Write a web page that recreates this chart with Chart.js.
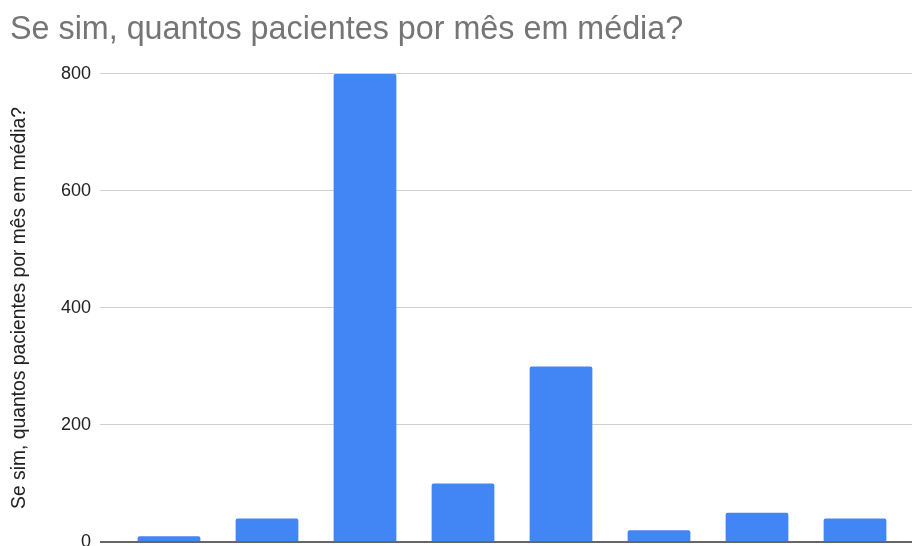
<!DOCTYPE html>
<html>
<head>
<meta charset="utf-8">
<script src="https://cdn.jsdelivr.net/npm/chart.js@4"></script>
<style>
  body { margin: 0; background: #fff; }
  canvas { display: block; }
</style>
</head>
<body>
<canvas id="bar-chart" width="912" height="546"></canvas>
<script>
const chartTitle = "Se sim, quantos pacientes por mês em média?"
const categories = ["Resposta 1", "Resposta 2", "Resposta 3", "Resposta 4", "Resposta 5", "Resposta 6", "Resposta 7", "Resposta 8"]
const pacientes = [10, 40, 800, 100, 300, 20, 50, 40]
const yTicks = [0, 200, 400, 600, 800]

const font = "'Liberation Sans', Arial, sans-serif"

// zero line darker than the other grid lines
const gridColor = ctx => ctx.tick && ctx.tick.value === 0 ? '#666' : '#d0d0d0'
const gridWidth = ctx => ctx.tick && ctx.tick.value === 0 ? 2 : 1

const bctx = document.getElementById("bar-chart").getContext("2d");

const bar_chart = new Chart(bctx, {
  type: "bar",
  data: {
    labels: categories,
    datasets: [
      {
        label: chartTitle,
        data: pacientes,
        backgroundColor: '#4285f4',
        borderWidth: 0,
        borderRadius: 2,
        borderSkipped: 'bottom',
        categoryPercentage: 1,
        barPercentage: 0.64
      }
    ]
  },
  options: {
    responsive: false,
    animation: false,
    layout: {
      padding: { left: 10, right: 0, top: 0, bottom: 4 }
    },
    plugins: {
      legend: { display: false },
      tooltip: { enabled: false },
      title: {
        display: true,
        text: chartTitle,
        align: 'start',
        color: '#757575',
        font: { family: font, size: 32.3, weight: 'normal', lineHeight: 1.2 },
        padding: { top: 11, bottom: 24.2 }
      }
    },
    scales: {
      x: {
        ticks: { display: false },
        grid: { display: false, drawTicks: false },
        border: { display: false },
        afterFit: axis => {
          axis.height = 0
          axis.paddingLeft = 0
          axis.paddingRight = 0
        }
      },
      y: {
        min: yTicks[0],
        max: yTicks[yTicks.length - 1],
        afterBuildTicks: axis => { axis.ticks = yTicks.map(v => ({ value: v })) },
        ticks: {
          color: '#222',
          padding: 9,
          font: { family: font, size: 18 }
        },
        grid: {
          color: gridColor,
          lineWidth: gridWidth,
          drawTicks: true,
          tickLength: 20
        },
        border: { display: false },
        title: {
          display: true,
          text: chartTitle,
          color: '#222',
          font: { family: font, size: 19.3, lineHeight: 1 },
          padding: { top: 0, bottom: 0 }
        },
        afterFit: axis => {
          axis.width = 110
          axis.paddingTop = 0
          axis.paddingBottom = 0
        }
      },
      // only carries the grid lines out to the right edge
      yRight: {
        position: 'right',
        min: yTicks[0],
        max: yTicks[yTicks.length - 1],
        afterBuildTicks: axis => { axis.ticks = yTicks.map(v => ({ value: v })) },
        ticks: { display: false },
        grid: {
          color: gridColor,
          lineWidth: gridWidth,
          drawOnChartArea: false,
          drawTicks: true,
          tickLength: 8
        },
        border: { display: false },
        afterFit: axis => {
          axis.width = 8
          axis.paddingTop = 0
          axis.paddingBottom = 0
        }
      }
    }
  }
});
</script>
</body>
</html>
